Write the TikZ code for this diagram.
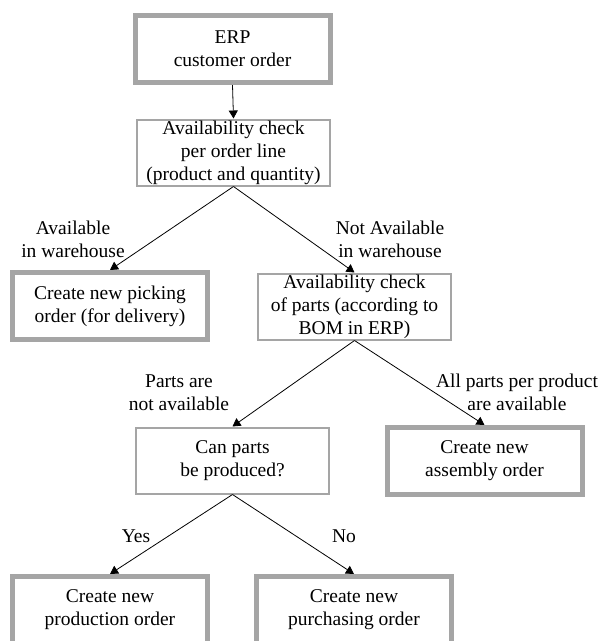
\documentclass[tikz,border=0pt]{standalone}
\usepackage{fontspec}
\setmainfont{Liberation Serif}
\usetikzlibrary{arrows.meta}
\definecolor{boxgray}{HTML}{A5A5A5}
\begin{document}
\begin{tikzpicture}[x=1pt,y=-1pt,
  every node/.style={font=\fontsize{19.5}{23}\selectfont, align=center, inner sep=0pt},
  thickbox/.style={draw=boxgray, line width=5pt, minimum width=195pt, minimum height=67pt, fill=white},
  thinbox/.style={draw=boxgray, line width=2pt, minimum width=193pt, minimum height=66pt, fill=white},
  lbl/.style={},
  conn/.style={draw=black, line width=0.8pt, -{Triangle[length=8pt,width=9pt]}}]
\useasboundingbox (0,0) rectangle (600,641);
\clip (0,0) rectangle (600,641);
\node[thickbox] (erp) at (232.5,49) {ERP\\customer order};
\node[thinbox] (avail) at (233.5,152.5) {Availability check\\per order line\\(product and quantity)};
\node[thickbox] (pick) at (110,306) {Create new picking\\order (for delivery)};
\node[thinbox] (parts) at (354.5,306.5) {Availability check\\of parts (according to\\BOM in ERP)};
\node[thinbox] (can) at (232.5,460.5) {Can parts\\be produced?};
\node[thickbox] (asm) at (484.5,461) {Create new\\assembly order};
\node[thickbox] (prod) at (110,610) {Create new\\production order};
\node[thickbox] (purch) at (354,610) {Create new\\purchasing order};
\node[lbl] (l1) at (73,239.5) {Available\\in warehouse};
\node[lbl] (l2) at (390,239.5) {Not Available\\in warehouse};
\node[lbl] (l3) at (179,392.5) {Parts are\\not available};
\node[lbl] (l4) at (517,392.5) {All parts per product\\are available};
\node[lbl] (l5) at (136,536) {Yes};
\node[lbl] (l6) at (344,536) {No};
\draw[conn] (erp.south) -- (avail.north);
\draw[conn] (avail.south) -- (pick.north);
\draw[conn] (avail.south) -- (parts.north);
\draw[conn] (parts.south) -- (can.north);
\draw[conn] (parts.south) -- (asm.north);
\draw[conn] (can.south) -- (prod.north);
\draw[conn] (can.south) -- (purch.north);
\end{tikzpicture}
\end{document}
